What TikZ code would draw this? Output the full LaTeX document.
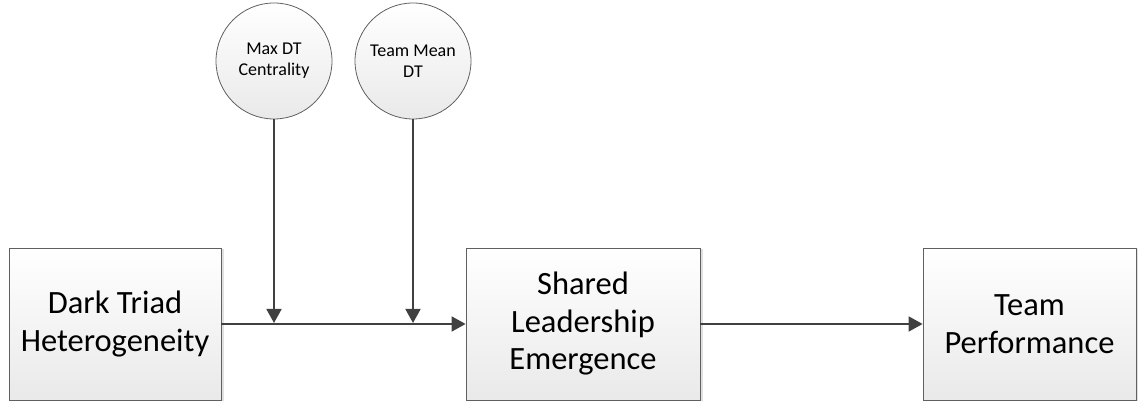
\documentclass[tikz,border=0pt]{standalone}
\usepackage{fontspec}
\setmainfont{Carlito}
\usetikzlibrary{arrows.meta,shadows}
\tikzset{%
    blk/.style={draw=gray!75!black, line width=0.8pt, top color=white, bottom color=gray!17,
        drop shadow={shadow xshift=3pt, shadow yshift=-1pt, fill=gray!40, opacity=0.6},
        inner sep=0pt, align=center, minimum height=152pt, font=\fontsize{32.5}{37.5}\selectfont},
    mod/.style={circle, draw=gray!75!black, line width=0.8pt, top color=white, bottom color=gray!17,
        inner sep=0pt, align=center, minimum size=116pt, font=\fontsize{18}{21}\selectfont},
    arr/.style={draw=black!75, line width=1.8pt, -{Triangle[length=14pt,width=15pt]}}
}

\begin{document}
\begin{tikzpicture}[x=1pt,y=1pt]
        \useasboundingbox (0,0) rectangle (1138,401);

        \node[blk, minimum width=212pt] (dth) at (115,77) {Dark Triad\\Heterogeneity};
        \node[blk, minimum width=234pt] (sle) at (583,77) {Shared\\Leadership\\Emergence};
        \node[blk, minimum width=213pt] (tp) at (1029.5,77) {Team\\Performance};

        % moderators
        \node[mod] (mdc) at (274,340) {Max DT\\Centrality};
        \node[mod] (tmd) at (413,340) {Team Mean\\DT};

        \coordinate (j1) at (mdc |- dth.east);
        \coordinate (j2) at (tmd |- dth.east);

        \draw[arr] (dth) -- (sle);
        \draw[arr] (sle) -- (tp);

        \draw[arr, shorten >=1pt] (mdc) -- (j1);
        \draw[arr, shorten >=1pt] (tmd) -- (j2);
    \end{tikzpicture}
\end{document}
